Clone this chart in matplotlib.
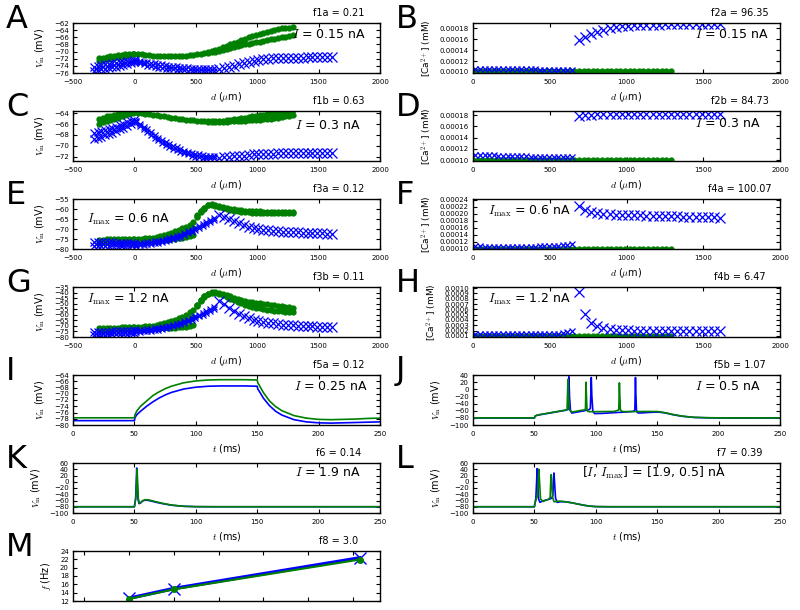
import matplotlib
matplotlib.use('Agg')
import matplotlib.pyplot as plt
from matplotlib.ticker import FormatStrFormatter, MultipleLocator

plt.rcParams.update({
    'font.family': ['DejaVu Sans'],
    'mathtext.fontset': 'cm',
    'xtick.direction': 'in', 'ytick.direction': 'in',
    'xtick.top': True, 'ytick.right': True,
    'xtick.major.size': 3, 'ytick.major.size': 3,
    'xtick.major.width': 0.8, 'ytick.major.width': 0.8,
    'xtick.minor.visible': False, 'ytick.minor.visible': False,
    'xtick.labelsize': 5, 'ytick.labelsize': 5,
    'xtick.major.pad': 4, 'ytick.major.pad': 3,
    'axes.linewidth': 1.0,
    'axes.labelsize': 7,
})

BLUE = (0, 0, 1)
GREEN = (0, 0.5, 0)

# ---------------- distances (um) ----------------
BASAL_D = [-330, -300, -270, -240, -210, -180, -150, -120, -90, -60, -30, -5]
TRUNK_D = [15, 45, 75, 105, 135, 165, 195, 225, 255, 285, 315, 345, 375, 405, 435,
           465, 495, 525, 555, 585, 615, 645]
DISTAL_D = [690, 730, 770, 810, 850, 890, 930, 970, 1010, 1050, 1090, 1130, 1170,
            1210, 1250, 1290, 1330, 1370, 1410, 1450, 1490, 1530, 1570, 1610]
GREEN_BASAL_D = [-285, -255, -225, -195, -165, -135, -105, -75, -45, -15]
GREEN_TRUNK_D = [0, 30, 60, 90, 120, 150, 180, 210, 240, 270, 300, 330, 360, 390,
                 420, 450, 480, 510, 540, 570]
GREEN_DISTAL_D = [600, 630, 660, 690, 720, 750, 780, 810, 840, 870, 900, 930, 960,
                  990, 1020, 1050, 1080, 1110, 1140, 1170, 1200, 1230, 1260, 1290]

# ---------------- panel A (I = 0.15 nA) ----------------
A_BLUE_BASAL_HI = [-74.2, -74.0, -73.8, -73.6, -73.4, -73.3, -73.1, -73.0, -72.8, -72.7, -72.5, -72.3]
A_BLUE_BASAL_LO = [-75.4, -75.2, -75.0, -74.8, -74.6, -74.4, -74.2, -74.0, -73.8, -73.5, -73.2, -72.8]
A_BLUE_TRUNK_HI = [-72.4, -72.6, -72.8, -72.9, -73.1, -73.3, -73.5, -73.6, -73.8, -73.9, -74.0,
                   -74.1, -74.2, -74.3, -74.4, -74.5, -74.5, -74.6, -74.6, -74.7, -74.7, -74.7]
A_BLUE_TRUNK_LO = [-72.9, -73.3, -73.6, -73.9, -74.1, -74.3, -74.5, -74.7, -74.8, -74.9, -75.0,
                   -75.1, -75.2, -75.2, -75.3, -75.3, -75.4, -75.4, -75.4, -75.4, -75.4, -75.3]
A_BLUE_DISTAL = [-74.8, -74.5, -74.2, -73.9, -73.5, -73.1, -72.8, -72.5, -72.3, -72.1, -72.0, -71.9,
                 -71.8, -71.8, -71.7, -71.7, -71.7, -71.7, -71.6, -71.6, -71.6, -71.6, -71.6, -71.6]
A_GREEN_BASAL_HI = [-71.9, -71.7, -71.5, -71.3, -71.2, -71.0, -70.9, -70.8, -70.7, -70.6]
A_GREEN_BASAL_LO = [-72.6, -72.4, -72.2, -72.0, -71.8, -71.6, -71.4, -71.2, -71.0, -70.8]
A_GREEN_TRUNK = [-70.6, -70.7, -70.8, -70.9, -71.0, -71.1, -71.2, -71.2, -71.3, -71.3, -71.3,
                 -71.3, -71.2, -71.2, -71.1, -71.0, -70.9, -70.8, -70.6, -70.4]
A_GREEN_DISTAL_HI = [-70.2, -69.9, -69.6, -69.2, -68.8, -68.4, -68.0, -67.6, -67.2, -66.8, -66.4, -66.0,
                     -65.6, -65.3, -65.0, -64.7, -64.4, -64.1, -63.9, -63.7, -63.5, -63.4, -63.3, -63.2]
A_GREEN_DISTAL_LO = [-70.4, -70.2, -70.0, -69.8, -69.5, -69.2, -68.9, -68.6, -68.4, -68.2, -68.0, -67.8,
                     -67.6, -67.4, -67.2, -67.0, -66.8, -66.6, -66.4, -66.2, -66.0, -65.8, -65.6, -65.4]

# ---------------- panel C (I = 0.3 nA) ----------------
C_BLUE_BASAL_HI = [-67.7, -67.5, -67.3, -67.1, -66.9, -66.7, -66.5, -66.2, -66.0, -65.7, -65.5, -65.2]
C_BLUE_BASAL_LO = [-68.8, -68.6, -68.4, -68.1, -67.8, -67.6, -67.3, -67.0, -66.7, -66.4, -66.0, -65.6]
C_BLUE_TRUNK_HI = [-65.4, -65.9, -66.5, -67.0, -67.5, -68.0, -68.5, -68.9, -69.3, -69.7, -70.0,
                   -70.3, -70.6, -70.9, -71.1, -71.3, -71.5, -71.6, -71.7, -71.8, -71.9, -71.9]
C_BLUE_TRUNK_LO = [-65.7, -66.3, -66.9, -67.5, -68.0, -68.5, -69.0, -69.4, -69.8, -70.2, -70.5,
                   -70.8, -71.1, -71.4, -71.6, -71.8, -72.0, -72.1, -72.2, -72.3, -72.3, -72.3]
C_BLUE_DISTAL = [-72.2, -72.1, -72.0, -71.9, -71.8, -71.8, -71.7, -71.6, -71.6, -71.5, -71.5, -71.5,
                 -71.4, -71.4, -71.4, -71.4, -71.4, -71.4, -71.4, -71.4, -71.4, -71.4, -71.4, -71.4]
C_GREEN_BASAL_HI = [-65.0, -64.8, -64.6, -64.5, -64.3, -64.1, -64.0, -63.9, -63.8, -63.7]
C_GREEN_BASAL_LO = [-65.9, -65.6, -65.4, -65.2, -65.0, -64.8, -64.6, -64.4, -64.2, -64.0]
C_GREEN_TRUNK = [-63.8, -63.9, -64.0, -64.1, -64.2, -64.3, -64.4, -64.5, -64.6, -64.7, -64.8,
                 -64.9, -65.0, -65.1, -65.2, -65.25, -65.3, -65.4, -65.45, -65.5]
C_GREEN_DISTAL_HI = [-65.5, -65.5, -65.5, -65.5, -65.4, -65.3, -65.2, -65.1, -65.0, -64.9, -64.8, -64.7,
                     -64.6, -64.5, -64.4, -64.3, -64.2, -64.1, -64.0, -63.9, -63.8, -63.7, -63.6, -63.5]
C_GREEN_DISTAL_LO = [-65.6, -65.6, -65.6, -65.6, -65.6, -65.6, -65.5, -65.5, -65.5, -65.4, -65.4, -65.3,
                     -65.3, -65.2, -65.2, -65.1, -65.1, -65.0, -64.9, -64.8, -64.7, -64.6, -64.5, -64.4]

# ---------------- panel E (I_max = 0.6 nA) ----------------
E_BLUE_BASAL_HI = [-76.5, -76.5, -76.6, -76.6, -76.7, -76.7, -76.8, -76.8, -76.9, -76.9, -77.0, -77.0]
E_BLUE_BASAL_LO = [-78.5, -78.4, -78.4, -78.3, -78.3, -78.2, -78.2, -78.1, -78.0, -77.9, -77.8, -77.7]
E_BLUE_TRUNK_HI = [-77.3, -77.1, -76.9, -76.7, -76.5, -76.2, -75.9, -75.5, -75.1, -74.6, -74.0,
                   -73.4, -72.8, -72.0, -71.2, -70.4, -69.5, -68.6, -67.6, -66.6, -65.6, -64.6]
E_BLUE_TRUNK_LO = [-78.3, -78.1, -77.9, -77.7, -77.5, -77.2, -76.9, -76.5, -76.1, -75.6, -75.0,
                   -74.4, -73.8, -73.0, -72.2, -71.4, -70.5, -69.6, -68.6, -67.6, -66.6, -65.6]
E_BLUE_DISTAL = [-63.0, -63.8, -65.0, -66.2, -67.2, -68.1, -68.9, -69.5, -70.0, -70.4, -70.7, -71.0,
                 -71.2, -71.4, -71.5, -71.6, -71.7, -71.8, -71.9, -72.0, -72.1, -72.2, -72.3, -72.4]
E_GREEN_BASAL_HI = [-75.3, -75.3, -75.2, -75.2, -75.2, -75.1, -75.1, -75.0, -75.0, -74.9]
E_GREEN_BASAL_LO = [-76.4, -76.3, -76.3, -76.2, -76.2, -76.1, -76.1, -76.0, -75.9, -75.8]
E_GREEN_TRUNK_HI = [-75.0, -74.9, -74.8, -74.7, -74.5, -74.3, -74.0, -73.6, -73.1, -72.5, -71.8,
                    -71.1, -70.4, -69.6, -68.8, -67.8, -66.5, -62.8, -61.0, -59.3]
E_GREEN_TRUNK_MID = [-75.4, -75.4, -75.3, -75.2, -75.1, -75.0, -74.8, -74.6, -74.2, -73.9, -73.4,
                     -73.0, -72.5, -72.0, -71.4, -70.6, -69.6, -63.3, -61.2, -59.5]
E_GREEN_TRUNK_LO = [-75.9, -75.9, -75.8, -75.8, -75.7, -75.6, -75.6, -75.5, -75.4, -75.3, -75.1,
                    -74.9, -74.7, -74.4, -74.0, -73.5, -72.8, -63.8, -61.5, -59.8]
E_GREEN_DISTAL_HI = [-57.8, -57.6, -57.9, -58.4, -59.0, -59.5, -59.9, -60.2, -60.5, -60.7, -60.9, -61.0,
                     -61.1, -61.2, -61.2, -61.3, -61.3, -61.4, -61.4, -61.4, -61.5, -61.5, -61.5, -61.6]
E_GREEN_DISTAL_LO = [-58.2, -58.0, -58.5, -59.0, -59.6, -60.1, -60.5, -60.9, -61.2, -61.4, -61.6, -61.7,
                     -61.8, -61.9, -61.9, -62.0, -62.0, -62.1, -62.1, -62.1, -62.2, -62.2, -62.2, -62.2]

# ---------------- panel G (I_max = 1.2 nA) ----------------
G_BLUE_BASAL_HI = [-75.5, -75.4, -75.3, -75.2, -75.1, -75.0, -74.9, -74.8, -74.6, -74.4, -74.2, -74.0]
G_BLUE_BASAL_LO = [-78.5, -78.4, -78.3, -78.1, -77.9, -77.7, -77.5, -77.3, -77.1, -76.9, -76.7, -76.5]
G_BLUE_TRUNK_HI = [-74.0, -73.8, -73.5, -73.1, -72.7, -72.3, -71.8, -71.2, -70.6, -69.9, -69.0,
                   -68.1, -67.0, -65.8, -64.5, -63.0, -61.5, -60.0, -58.5, -57.0, -55.2, -53.2]
G_BLUE_TRUNK_LO = [-75.5, -75.3, -75.0, -74.6, -74.2, -73.8, -73.3, -72.7, -72.1, -71.4, -70.5,
                   -69.6, -68.5, -67.3, -66.0, -64.5, -63.0, -61.5, -60.0, -58.5, -56.7, -54.7]
G_BLUE_DISTAL = [-47.5, -50.5, -54.0, -57.0, -59.5, -61.5, -63.0, -64.5, -65.5, -66.5, -67.2, -67.8,
                 -68.3, -68.8, -69.2, -69.5, -69.8, -70.0, -70.2, -70.4, -70.6, -70.7, -70.8, -70.9]
G_GREEN_BASAL_HI = [-72.0, -71.9, -71.8, -71.7, -71.6, -71.5, -71.4, -71.3, -71.2, -71.0]
G_GREEN_BASAL_LO = [-73.5, -73.4, -73.3, -73.2, -73.1, -73.0, -72.9, -72.8, -72.6, -72.4]
G_GREEN_TRUNK_HI = [-71.0, -70.9, -70.7, -70.5, -70.2, -69.8, -69.3, -68.6, -67.8, -66.9, -65.8,
                    -64.6, -63.2, -61.6, -59.8, -57.8, -55.5, -51.0, -46.5, -43.0]
G_GREEN_TRUNK_MID = [-71.8, -71.7, -71.6, -71.5, -71.3, -71.0, -70.8, -70.4, -70.0, -69.4, -68.8,
                     -68.1, -67.2, -66.3, -65.2, -63.9, -62.2, -51.5, -47.0, -43.4]
G_GREEN_TRUNK_LO = [-72.5, -72.5, -72.5, -72.4, -72.4, -72.3, -72.3, -72.2, -72.1, -72.0, -71.8,
                    -71.6, -71.3, -71.0, -70.6, -70.0, -69.0, -52.0, -47.5, -43.8]
G_GREEN_DISTAL_HI = [-41.0, -39.5, -39.2, -40.0, -41.0, -42.0, -43.4, -44.8, -46.0, -46.8, -47.5, -48.1,
                     -48.6, -49.1, -49.6, -50.0, -50.4, -50.8, -51.3, -51.8, -52.3, -52.8, -53.3, -53.8]
G_GREEN_DISTAL_LO = [-41.5, -40.0, -40.0, -41.0, -42.5, -44.0, -45.5, -47.0, -48.5, -49.8, -51.0, -52.0,
                     -52.8, -53.5, -54.2, -54.8, -55.3, -55.8, -56.2, -56.6, -57.0, -57.3, -57.6, -57.9]

# ---------------- calcium panels (mM) ----------------
B_BLUE_TRUNK = [1.06e-4, 1.06e-4, 1.06e-4, 1.055e-4, 1.055e-4, 1.05e-4, 1.05e-4, 1.05e-4, 1.05e-4,
                1.05e-4, 1.045e-4, 1.045e-4, 1.045e-4, 1.045e-4, 1.04e-4, 1.04e-4, 1.04e-4, 1.04e-4,
                1.04e-4, 1.04e-4, 1.04e-4, 1.04e-4]
B_BLUE_DISTAL = [1.585e-4, 1.645e-4, 1.70e-4, 1.74e-4, 1.77e-4, 1.80e-4, 1.82e-4, 1.84e-4, 1.85e-4,
                 1.86e-4, 1.865e-4, 1.87e-4, 1.87e-4, 1.87e-4, 1.875e-4, 1.875e-4, 1.875e-4, 1.875e-4,
                 1.875e-4, 1.875e-4, 1.875e-4, 1.875e-4, 1.875e-4, 1.875e-4]
D_BLUE_TRUNK = [1.10e-4, 1.095e-4, 1.09e-4, 1.088e-4, 1.085e-4, 1.082e-4, 1.08e-4, 1.078e-4, 1.075e-4,
                1.072e-4, 1.07e-4, 1.068e-4, 1.065e-4, 1.063e-4, 1.06e-4, 1.058e-4, 1.056e-4, 1.055e-4,
                1.053e-4, 1.052e-4, 1.051e-4, 1.05e-4]
D_BLUE_DISTAL = [1.785e-4, 1.80e-4, 1.81e-4, 1.815e-4, 1.82e-4, 1.82e-4, 1.825e-4, 1.825e-4, 1.83e-4,
                 1.83e-4, 1.83e-4, 1.83e-4, 1.83e-4, 1.83e-4, 1.83e-4, 1.83e-4, 1.83e-4, 1.83e-4,
                 1.83e-4, 1.83e-4, 1.83e-4, 1.83e-4, 1.83e-4, 1.83e-4]
F_BLUE_TRUNK = [1.07e-4, 1.07e-4, 1.068e-4, 1.068e-4, 1.066e-4, 1.066e-4, 1.065e-4, 1.065e-4, 1.065e-4,
                1.065e-4, 1.065e-4, 1.066e-4, 1.067e-4, 1.068e-4, 1.07e-4, 1.073e-4, 1.077e-4, 1.083e-4,
                1.09e-4, 1.10e-4, 1.11e-4, 1.13e-4]
F_BLUE_DISTAL = [2.22e-4, 2.12e-4, 2.06e-4, 2.02e-4, 1.99e-4, 1.98e-4, 1.975e-4, 1.97e-4, 1.965e-4,
                 1.96e-4, 1.955e-4, 1.95e-4, 1.945e-4, 1.94e-4, 1.935e-4, 1.93e-4, 1.925e-4, 1.92e-4,
                 1.915e-4, 1.91e-4, 1.905e-4, 1.90e-4, 1.895e-4, 1.89e-4]
H_BLUE_TRUNK = [1.3e-4, 1.3e-4, 1.3e-4, 1.3e-4, 1.3e-4, 1.3e-4, 1.3e-4, 1.3e-4, 1.3e-4, 1.3e-4, 1.3e-4,
                1.3e-4, 1.3e-4, 1.3e-4, 1.3e-4, 1.32e-4, 1.35e-4, 1.4e-4, 1.45e-4, 1.55e-4, 1.7e-4, 2.0e-4]
H_BLUE_DISTAL = [9.3e-4, 5.2e-4, 3.5e-4, 2.8e-4, 2.45e-4, 2.25e-4, 2.15e-4, 2.1e-4, 2.05e-4, 2.0e-4,
                 2.0e-4, 1.98e-4, 1.96e-4, 1.95e-4, 1.94e-4, 1.93e-4, 1.92e-4, 1.91e-4, 1.9e-4, 1.9e-4,
                 1.9e-4, 1.9e-4, 1.9e-4, 1.9e-4]
GREEN_CA_TRUNK = [1.01e-4, 1.01e-4, 1.01e-4, 1.01e-4, 1.01e-4, 1.01e-4, 1.01e-4, 1.01e-4, 1.01e-4,
                  1.01e-4, 1.01e-4, 1.01e-4, 1.01e-4, 1.01e-4, 1.01e-4, 1.01e-4, 1.01e-4, 1.01e-4,
                  1.01e-4, 1.01e-4]
GREEN_CA_DISTAL = [1.01e-4, 1.01e-4, 1.01e-4, 1.01e-4, 1.01e-4, 1.01e-4, 1.01e-4, 1.01e-4, 1.01e-4,
                   1.01e-4, 1.01e-4, 1.01e-4, 1.01e-4, 1.01e-4, 1.01e-4, 1.01e-4, 1.01e-4, 1.01e-4,
                   1.01e-4, 1.01e-4, 1.01e-4, 1.01e-4, 1.01e-4, 1.01e-4]

# ---------------- panel I (I = 0.25 nA) ----------------
I_T = [0, 50, 50.5, 52, 55, 60, 65, 70, 75, 80, 90, 100, 110, 120, 130, 140, 150, 150.5, 152, 155,
       160, 165, 170, 180, 190, 200, 210, 220, 230, 240, 250]
I_GREEN = [-77.7, -77.7, -76.7, -75.5, -74.0, -72.3, -70.6, -69.4, -68.4, -67.6, -66.5, -65.9, -65.6,
           -65.5, -65.5, -65.5, -65.6, -66.5, -67.5, -69.6, -72.3, -74.1, -75.4, -77.0, -77.8, -78.2,
           -78.3, -78.2, -78.1, -77.9, -77.8]
I_BLUE = [-78.6, -78.6, -77.6, -76.7, -75.6, -74.0, -72.6, -71.4, -70.4, -69.6, -68.5, -67.9, -67.6,
          -67.5, -67.5, -67.5, -67.6, -68.5, -69.4, -71.4, -73.8, -75.6, -76.8, -78.3, -79.0, -79.3,
          -79.4, -79.3, -79.2, -79.1, -79.0]

# ---------------- panel J (I = 0.5 nA) ----------------
J_T_BLUE = [0, 50, 50.5, 52, 55, 60, 65, 70, 75, 77.4, 77.8, 78.1, 78.6, 79.4, 80.5, 83, 86, 90, 94.3,
            95.5, 96.0, 96.3, 96.8, 97.6, 99, 105, 110, 115, 120, 125, 130.5, 131.8, 132.3, 132.6,
            133.1, 133.9, 135.5, 140, 145, 150, 153, 157, 162, 170, 180, 190, 200, 210, 230, 250]
J_V_BLUE = [-80.5, -80.5, -75.5, -73, -71, -68, -65, -62, -59, -56.5, -10, 35, -20, -60, -66.5, -65,
            -63, -60.5, -57.5, -54, -10, 33, -20, -62, -68, -67.5, -66.5, -65.5, -64.5, -63.5, -62.0,
            -58, 33, -10, -58, -65.5, -66.5, -65.5, -64.5, -64, -64.5, -66.5, -70.5, -75.5, -78.8,
            -79.8, -80.3, -80.5, -80.5, -80.5]
J_T_GREEN = [0, 50, 50.5, 52, 55, 60, 65, 70, 75, 76.6, 77.0, 77.3, 77.8, 78.6, 80, 82, 85, 88, 91.0,
             91.6, 92.0, 92.3, 92.8, 93.6, 95, 100, 105, 110, 115, 118.7, 119.2, 119.5, 120.0, 120.8,
             123, 130, 140, 150, 153, 157, 162, 170, 180, 190, 200, 210, 230, 250]
J_V_GREEN = [-80, -80, -75, -72.5, -70.5, -67.5, -64.5, -61.5, -58.5, -56.5, -10, 28, -20, -58, -63.5,
             -63, -61, -59, -57.5, -54, 20, -10, -56, -62, -62.8, -62.6, -62.4, -62.2, -62.0, -58, 18,
             -10, -56, -61.5, -62.5, -62.3, -62.2, -62.3, -63.5, -66, -70, -75, -78.5, -79.5, -80,
             -80.2, -80.2, -80]

# ---------------- panel K (I = 1.9 nA) ----------------
K_T_BLUE = [0, 50, 50.5, 51.0, 51.5, 51.9, 52.3, 52.9, 53.8, 55, 56.5, 58.5, 61, 64, 68, 73, 80, 90,
            100, 115, 150, 250]
K_V_BLUE = [-80, -80, -68, -52, 0, 44, 0, -55, -70, -68, -62, -59, -59.5, -62, -66, -70, -75, -78.5,
            -79.7, -80, -80, -80]
K_T_GREEN = [0, 50, 50.5, 51.2, 51.8, 52.2, 52.6, 53.2, 54.1, 55.3, 57, 59, 61.5, 64.5, 68.5, 73.5,
             80, 90, 100, 115, 150, 250]
K_V_GREEN = [-80, -80, -68, -52, 0, 40, 0, -55, -69, -66, -60, -57.5, -58, -61, -65, -69.5, -74.5,
             -78.5, -79.7, -80, -80, -80]

# ---------------- panel L ([I, I_max] = [1.9, 0.5] nA) ----------------
L_T_BLUE = [0, 50, 50.5, 51.2, 51.8, 52.2, 52.7, 53.4, 54.5, 56, 58, 61, 64, 65.0, 65.5, 65.9, 66.4,
            67.2, 68.5, 71, 75, 80, 85, 90, 95, 100, 110, 130, 250]
L_V_BLUE = [-80, -80, -68, -52, 0, 42, 0, -55, -66, -63, -60, -57, -53, -45, 0, 28, 0, -52, -66, -64,
            -64, -67, -71, -75, -78, -79.5, -80, -80, -80]
L_T_GREEN = [0, 50, 50.5, 51.5, 52.5, 53.2, 53.6, 54.2, 55, 57, 59, 61.5, 62.8, 63.3, 63.7, 64.1, 64.8,
             66, 68, 71, 75, 80, 85, 90, 95, 100, 110, 130, 250]
L_V_GREEN = [-80, -80, -68, -55, -45, 10, 40, 0, -55, -63, -60, -56, -50, 0, 23, 0, -50, -64, -63,
             -62, -64, -67, -71, -75, -78, -79.5, -80, -80, -80]

# ---------------- panel M ----------------
M_X = [0.4, 0.5, 0.915]
M_BLUE = [12.65, 15.0, 22.35]
M_GREEN = [12.5, 14.8, 21.95]

# ---------------- layout ----------------
W, H = 800, 610
fig = plt.figure(figsize=(W / 100, H / 100), dpi=100)
ROW_TOP = [23, 111, 199, 287, 375, 463, 551]
AX_H = 50
COL_LEFT = [73, 473]
AX_W = 307


def make_ax(col, row):
    top = ROW_TOP[row]
    return fig.add_axes([COL_LEFT[col] / W, 1 - (top + AX_H) / H, AX_W / W, AX_H / H])


def decorate(ax, col, row, letter, title):
    top = ROW_TOP[row]
    lx = 6 if col == 0 else 396
    fig.text(lx / W, 1 - (top - 4) / H, letter, fontsize=23, ha='left', va='center')
    ax.text(0.865 if col == 0 else 0.87, 1.2, title, transform=ax.transAxes,
            ha='center', va='center', fontsize=7)


def annotate(ax, text, x, y, ha='center'):
    ax.text(x, y, text, transform=ax.transAxes, ha=ha, va='center', fontsize=9)


def green_dots(ax, d, v, ms=3.5):
    ax.plot(d, v, 'o', color=GREEN, mec=GREEN, ms=ms, ls='none')


def blue_x(ax, d, v, ms=6.0):
    ax.plot(d, v, 'x', color=BLUE, mec=BLUE, ms=ms, mew=0.9, ls='none')


def vm_panel(ax, g_basal, g_trunk, g_distal, b_basal, b_trunk, b_distal, ylim, ystep):
    for row in g_basal:
        green_dots(ax, GREEN_BASAL_D, row)
    for row in g_trunk:
        green_dots(ax, GREEN_TRUNK_D, row)
    for row in g_distal:
        green_dots(ax, GREEN_DISTAL_D, row)
    for row in b_basal:
        blue_x(ax, BASAL_D, row, ms=5.5)
    for row in b_trunk:
        blue_x(ax, TRUNK_D, row, ms=4.3)
    blue_x(ax, DISTAL_D, b_distal, ms=6.5)
    ax.set_xlim(-500, 2000)
    ax.xaxis.set_major_locator(MultipleLocator(500))
    ax.set_ylim(*ylim)
    ax.yaxis.set_major_locator(MultipleLocator(ystep))
    ax.set_xlabel(r'$d$ ($\mu$m)', labelpad=4)
    ax.set_ylabel(r'$V_{\rm m}$ (mV)', labelpad=5)


def ca_panel(ax, b_trunk, b_distal, ylim, ystep, fmt):
    green_dots(ax, GREEN_TRUNK_D, GREEN_CA_TRUNK)
    green_dots(ax, GREEN_DISTAL_D, GREEN_CA_DISTAL)
    blue_x(ax, TRUNK_D, b_trunk, ms=5.0)
    blue_x(ax, DISTAL_D, b_distal, ms=6.5)
    ax.set_xlim(0, 2000)
    ax.xaxis.set_major_locator(MultipleLocator(500))
    ax.set_ylim(*ylim)
    ax.yaxis.set_major_locator(MultipleLocator(ystep))
    ax.yaxis.set_major_formatter(FormatStrFormatter(fmt))
    ax.set_xlabel(r'$d$ ($\mu$m)', labelpad=4)
    ax.set_ylabel(r'[Ca$^{2+}$] (mM)', labelpad=4, fontsize=6.5)


def t_panel(ax, tb, vb, tg, vg, ylim, ystep):
    ax.plot(tb, vb, color=BLUE, lw=1.2)
    ax.plot(tg, vg, color=GREEN, lw=1.2)
    ax.set_xlim(0, 250)
    ax.xaxis.set_major_locator(MultipleLocator(50))
    ax.set_ylim(*ylim)
    ax.yaxis.set_major_locator(MultipleLocator(ystep))
    ax.set_xlabel(r'$t$ (ms)', labelpad=4)
    ax.set_ylabel(r'$V_{\rm m}$ (mV)', labelpad=5)


# A
ax = make_ax(0, 0)
vm_panel(ax, [A_GREEN_BASAL_HI, A_GREEN_BASAL_LO], [A_GREEN_TRUNK],
         [A_GREEN_DISTAL_HI, A_GREEN_DISTAL_LO],
         [A_BLUE_BASAL_HI, A_BLUE_BASAL_LO], [A_BLUE_TRUNK_HI, A_BLUE_TRUNK_LO], A_BLUE_DISTAL,
         (-76, -62), 2)
decorate(ax, 0, 0, 'A', 'f1a = 0.21')
annotate(ax, r'$I$ = 0.15 nA', 0.835, 0.78)

# B
ax = make_ax(1, 0)
ca_panel(ax, B_BLUE_TRUNK, B_BLUE_DISTAL, (0.000098, 0.00019), 0.00002, '%.5f')
decorate(ax, 1, 0, 'B', 'f2a = 96.35')
annotate(ax, r'$I$ = 0.15 nA', 0.845, 0.78)

# C
ax = make_ax(0, 1)
vm_panel(ax, [C_GREEN_BASAL_HI, C_GREEN_BASAL_LO], [C_GREEN_TRUNK],
         [C_GREEN_DISTAL_HI, C_GREEN_DISTAL_LO],
         [C_BLUE_BASAL_HI, C_BLUE_BASAL_LO], [C_BLUE_TRUNK_HI, C_BLUE_TRUNK_LO], C_BLUE_DISTAL,
         (-72.8, -63.6), 2)
decorate(ax, 0, 1, 'C', 'f1b = 0.63')
annotate(ax, r'$I$ = 0.3 nA', 0.83, 0.72)

# D
ax = make_ax(1, 1)
ca_panel(ax, D_BLUE_TRUNK, D_BLUE_DISTAL, (0.0000985, 0.0001875), 0.00002, '%.5f')
decorate(ax, 1, 1, 'D', 'f2b = 84.73')
annotate(ax, r'$I$ = 0.3 nA', 0.83, 0.76)

# E
ax = make_ax(0, 2)
vm_panel(ax, [E_GREEN_BASAL_HI, E_GREEN_BASAL_LO],
         [E_GREEN_TRUNK_HI, E_GREEN_TRUNK_MID, E_GREEN_TRUNK_LO],
         [E_GREEN_DISTAL_HI, E_GREEN_DISTAL_LO],
         [E_BLUE_BASAL_HI, E_BLUE_BASAL_LO], [E_BLUE_TRUNK_HI, E_BLUE_TRUNK_LO], E_BLUE_DISTAL,
         (-80, -55), 5)
decorate(ax, 0, 2, 'E', 'f3a = 0.12')
annotate(ax, r'$I_{\rm max}$ = 0.6 nA', 0.045, 0.6, ha='left')

# F
ax = make_ax(1, 2)
ca_panel(ax, F_BLUE_TRUNK, F_BLUE_DISTAL, (0.0000997, 0.000242), 0.00002, '%.5f')
decorate(ax, 1, 2, 'F', 'f4a = 100.07')
annotate(ax, r'$I_{\rm max}$ = 0.6 nA', 0.048, 0.76, ha='left')

# G
ax = make_ax(0, 3)
vm_panel(ax, [G_GREEN_BASAL_HI, G_GREEN_BASAL_LO],
         [G_GREEN_TRUNK_HI, G_GREEN_TRUNK_MID, G_GREEN_TRUNK_LO],
         [G_GREEN_DISTAL_HI, G_GREEN_DISTAL_LO],
         [G_BLUE_BASAL_HI, G_BLUE_BASAL_LO], [G_BLUE_TRUNK_HI, G_BLUE_TRUNK_LO], G_BLUE_DISTAL,
         (-80, -35), 5)
decorate(ax, 0, 3, 'G', 'f3b = 0.11')
annotate(ax, r'$I_{\rm max}$ = 1.2 nA', 0.045, 0.76, ha='left')

# H
ax = make_ax(1, 3)
ca_panel(ax, H_BLUE_TRUNK, H_BLUE_DISTAL, (0.00008, 0.00102), 0.0001, '%.4f')
decorate(ax, 1, 3, 'H', 'f4b = 6.47')
annotate(ax, r'$I_{\rm max}$ = 1.2 nA', 0.05, 0.75, ha='left')

# I
ax = make_ax(0, 4)
t_panel(ax, I_T, I_BLUE, I_T, I_GREEN, (-80, -64), 2)
decorate(ax, 0, 4, 'I', 'f5a = 0.12')
annotate(ax, r'$I$ = 0.25 nA', 0.84, 0.78)

# J
ax = make_ax(1, 4)
t_panel(ax, J_T_BLUE, J_V_BLUE, J_T_GREEN, J_V_GREEN, (-100, 40), 20)
decorate(ax, 1, 4, 'J', 'f5b = 1.07')
annotate(ax, r'$I$ = 0.5 nA', 0.83, 0.76)

# K
ax = make_ax(0, 5)
t_panel(ax, K_T_BLUE, K_V_BLUE, K_T_GREEN, K_V_GREEN, (-100, 60), 20)
decorate(ax, 0, 5, 'K', 'f6 = 0.14')
annotate(ax, r'$I$ = 1.9 nA', 0.83, 0.8)

# L
ax = make_ax(1, 5)
t_panel(ax, L_T_BLUE, L_V_BLUE, L_T_GREEN, L_V_GREEN, (-100, 60), 20)
decorate(ax, 1, 5, 'L', 'f7 = 0.39')
annotate(ax, r'[$I$, $I_{\rm max}$] = [1.9, 0.5] nA', 0.59, 0.81)

# M
ax = make_ax(0, 6)
ax.plot(M_X, M_BLUE, 'x-', color=BLUE, mec=BLUE, lw=2.5, ms=8, mew=1.0)
ax.plot(M_X, M_GREEN, 'o-', color=GREEN, mec=GREEN, lw=1.5, ms=4)
ax.set_xlim(0.275, 0.96)
ax.set_ylim(12, 24)
ax.yaxis.set_major_locator(MultipleLocator(2))
ax.tick_params(axis='x', labelbottom=False)
ax.set_ylabel(r'$f$ (Hz)', labelpad=5)
decorate(ax, 0, 6, 'M', 'f8 = 3.0')

fig.savefig('out.png', dpi=100, facecolor='white')
